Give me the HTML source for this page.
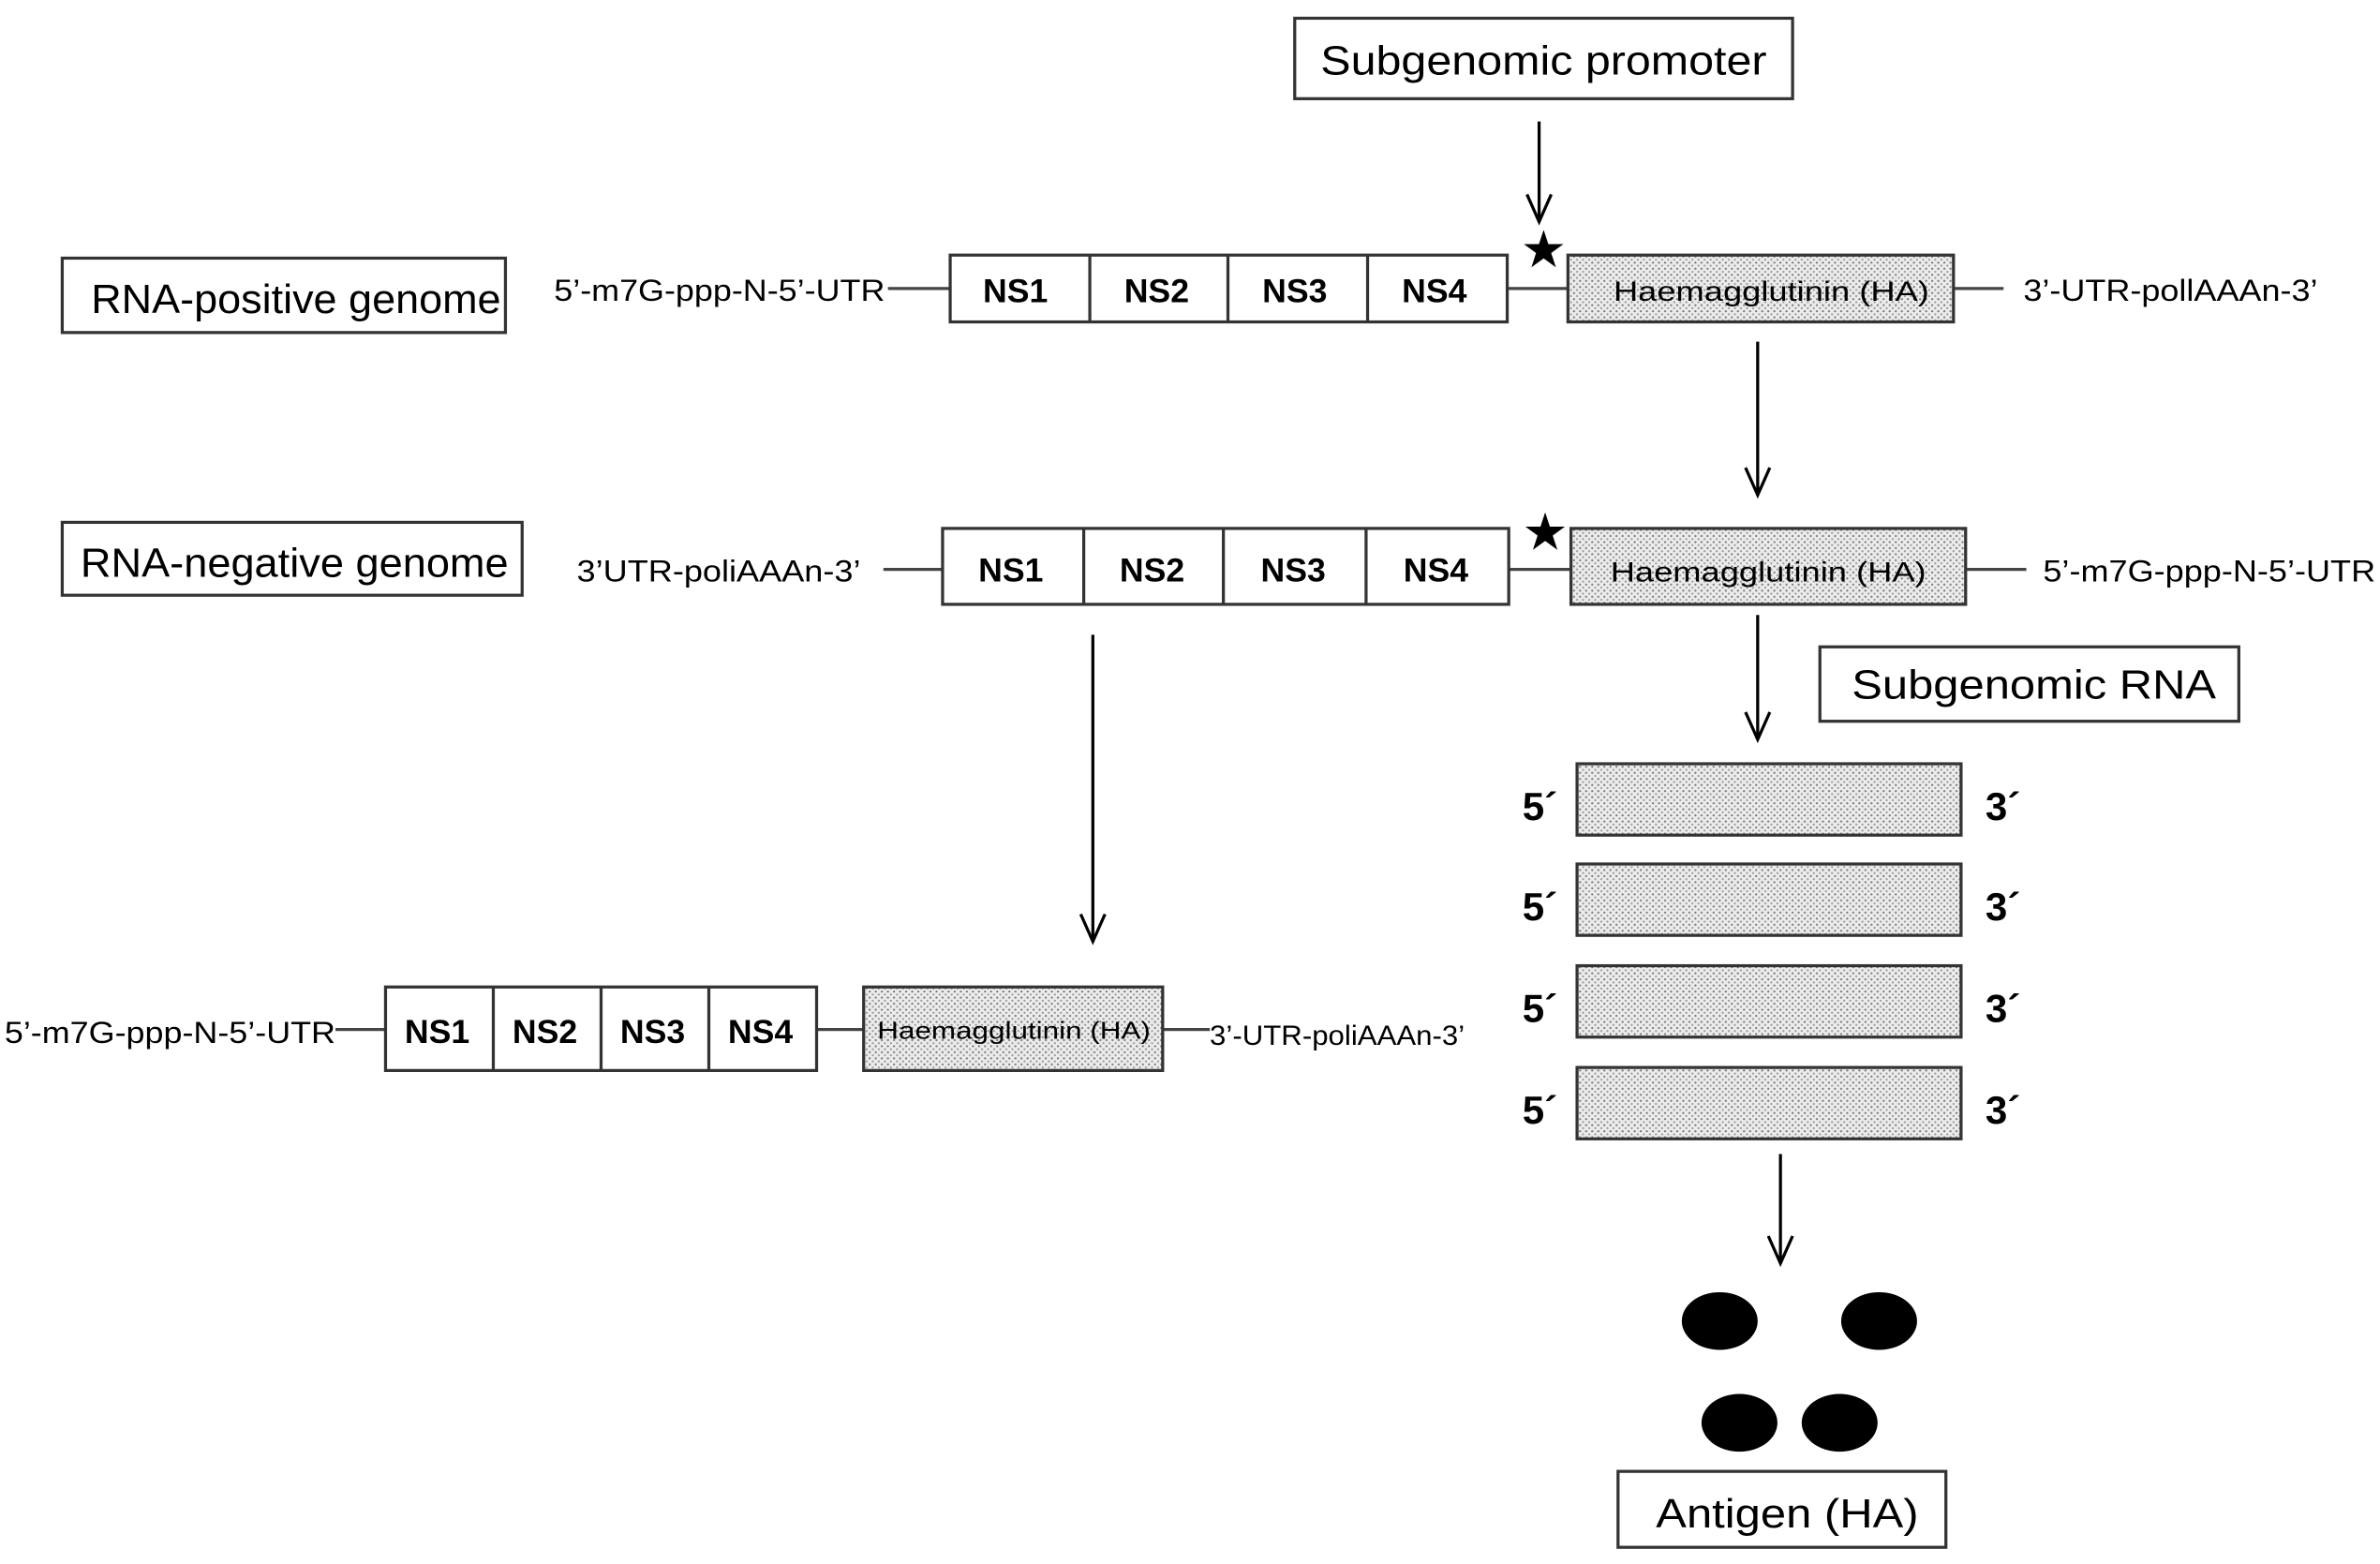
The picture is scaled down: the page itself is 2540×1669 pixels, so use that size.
<!DOCTYPE html>
<html><head><meta charset="utf-8"><style>html,body{margin:0;padding:0;background:#fff}svg{display:block}</style></head><body>
<svg width="2540" height="1669" viewBox="0 0 1568 1030" preserveAspectRatio="none" xmlns="http://www.w3.org/2000/svg">
<defs>
<pattern id="dots" width="4" height="4" patternUnits="userSpaceOnUse"><rect width="4" height="4" fill="#ececec"/><circle cx="1" cy="1" r="0.7" fill="#777"/><circle cx="3" cy="3" r="0.7" fill="#999"/></pattern>
</defs>
<g font-family="Liberation Sans, sans-serif" fill="#000">
<g fill="#fff" stroke="#333" stroke-width="2">
<rect x="853" y="12" width="328" height="53"/>
<rect x="41" y="170" width="292" height="49"/>
<rect x="41" y="344" width="303" height="48"/>
<rect x="1199" y="426" width="276" height="49"/>
<rect x="1066" y="969" width="216" height="50"/>
</g>
<g font-size="27">
<text x="870" y="49" textLength="294" lengthAdjust="spacingAndGlyphs">Subgenomic promoter</text>
<text x="60" y="206" textLength="270" lengthAdjust="spacingAndGlyphs">RNA-positive genome</text>
<text x="53" y="380" textLength="282" lengthAdjust="spacingAndGlyphs">RNA-negative genome</text>
<text x="1220" y="460" textLength="240" lengthAdjust="spacingAndGlyphs">Subgenomic RNA</text>
<text x="1091" y="1006" textLength="173" lengthAdjust="spacingAndGlyphs">Antigen (HA)</text>
</g>
<g stroke="#000" stroke-width="2" fill="none">
<line x1="1014" y1="80" x2="1014" y2="146"/><polyline points="1006,128 1014,146 1022,128"/>
<line x1="1158" y1="225" x2="1158" y2="326"/><polyline points="1150,308 1158,326 1166,308"/>
<line x1="1158" y1="405" x2="1158" y2="487"/><polyline points="1150,469 1158,487 1166,469"/>
<line x1="720" y1="418" x2="720" y2="620"/><polyline points="712,602 720,620 728,602"/>
<line x1="1173" y1="760" x2="1173" y2="832"/><polyline points="1165,814 1173,832 1181,814"/>
</g>
<text x="1017" y="176" font-size="34" text-anchor="middle">★</text>
<text x="1018" y="362" font-size="34" text-anchor="middle">★</text>
<g stroke="#444" stroke-width="2">
<line x1="585" y1="190" x2="626" y2="190"/><line x1="993" y1="190" x2="1033" y2="190"/><line x1="1287" y1="190" x2="1320" y2="190"/>
<line x1="582" y1="375" x2="621" y2="375"/><line x1="994" y1="375" x2="1035" y2="375"/><line x1="1295" y1="375" x2="1335" y2="375"/>
<line x1="221" y1="678" x2="254" y2="678"/><line x1="538" y1="678" x2="569" y2="678"/><line x1="766" y1="678" x2="797" y2="678"/>
</g>
<g stroke="#333" stroke-width="2" fill="#fff">
<rect x="626" y="168" width="367" height="44"/>
<line x1="718" y1="168" x2="718" y2="212"/><line x1="809" y1="168" x2="809" y2="212"/><line x1="901" y1="168" x2="901" y2="212"/>
<rect x="1033" y="168" width="254" height="44" fill="url(#dots)"/>
<rect x="621" y="348" width="373" height="50"/>
<line x1="714" y1="348" x2="714" y2="398"/><line x1="806" y1="348" x2="806" y2="398"/><line x1="900" y1="348" x2="900" y2="398"/>
<rect x="1035" y="348" width="260" height="50" fill="url(#dots)"/>
<rect x="254" y="650" width="284" height="55"/>
<line x1="325" y1="650" x2="325" y2="705"/><line x1="396" y1="650" x2="396" y2="705"/><line x1="467" y1="650" x2="467" y2="705"/>
<rect x="569" y="650" width="197" height="55" fill="url(#dots)"/>
<rect x="1039" y="503" width="253" height="47" fill="url(#dots)"/>
<rect x="1039" y="569" width="253" height="47" fill="url(#dots)"/>
<rect x="1039" y="636" width="253" height="47" fill="url(#dots)"/>
<rect x="1039" y="703" width="253" height="47" fill="url(#dots)"/>
</g>
<g font-size="20" lengthAdjust="spacingAndGlyphs">
<text x="365" y="198" textLength="218" lengthAdjust="spacingAndGlyphs">5’-m7G-ppp-N-5’-UTR</text>
<text x="1333" y="198" textLength="194" lengthAdjust="spacingAndGlyphs">3’-UTR-pollAAAn-3’</text>
<text x="380" y="383" textLength="187" lengthAdjust="spacingAndGlyphs">3’UTR-poliAAAn-3’</text>
<text x="1346" y="383" textLength="219" lengthAdjust="spacingAndGlyphs">5’-m7G-ppp-N-5’-UTR</text>
<text x="3" y="687" textLength="218" lengthAdjust="spacingAndGlyphs">5’-m7G-ppp-N-5’-UTR</text>
<text x="797" y="688" font-size="18" textLength="168" lengthAdjust="spacingAndGlyphs">3’-UTR-poliAAAn-3’</text>
</g>
<g font-size="22" font-weight="bold" text-anchor="middle">
<text x="669" y="199">NS1</text><text x="762" y="199">NS2</text><text x="853" y="199">NS3</text><text x="945" y="199">NS4</text>
<text x="666" y="383">NS1</text><text x="759" y="383">NS2</text><text x="852" y="383">NS3</text><text x="946" y="383">NS4</text>
<text x="288" y="687">NS1</text><text x="359" y="687">NS2</text><text x="430" y="687">NS3</text><text x="501" y="687">NS4</text>
</g>
<g font-size="18">
<text x="1063" y="198" textLength="208" lengthAdjust="spacingAndGlyphs">Haemagglutinin (HA)</text>
<text x="1061" y="383" textLength="208" lengthAdjust="spacingAndGlyphs">Haemagglutinin (HA)</text>
<text x="578" y="684" font-size="16" textLength="180" lengthAdjust="spacingAndGlyphs">Haemagglutinin (HA)</text>
</g>
<g font-size="26" font-weight="bold">
<text x="1003" y="540">5´</text><text x="1308" y="540">3´</text>
<text x="1003" y="606">5´</text><text x="1308" y="606">3´</text>
<text x="1003" y="673">5´</text><text x="1308" y="673">3´</text>
<text x="1003" y="740">5´</text><text x="1308" y="740">3´</text>
</g>
<ellipse cx="1133" cy="870" rx="25" ry="19"/><ellipse cx="1238" cy="870" rx="25" ry="19"/>
<ellipse cx="1146" cy="937" rx="25" ry="19"/><ellipse cx="1212" cy="937" rx="25" ry="19"/>
</g>
</svg>
</body></html>
